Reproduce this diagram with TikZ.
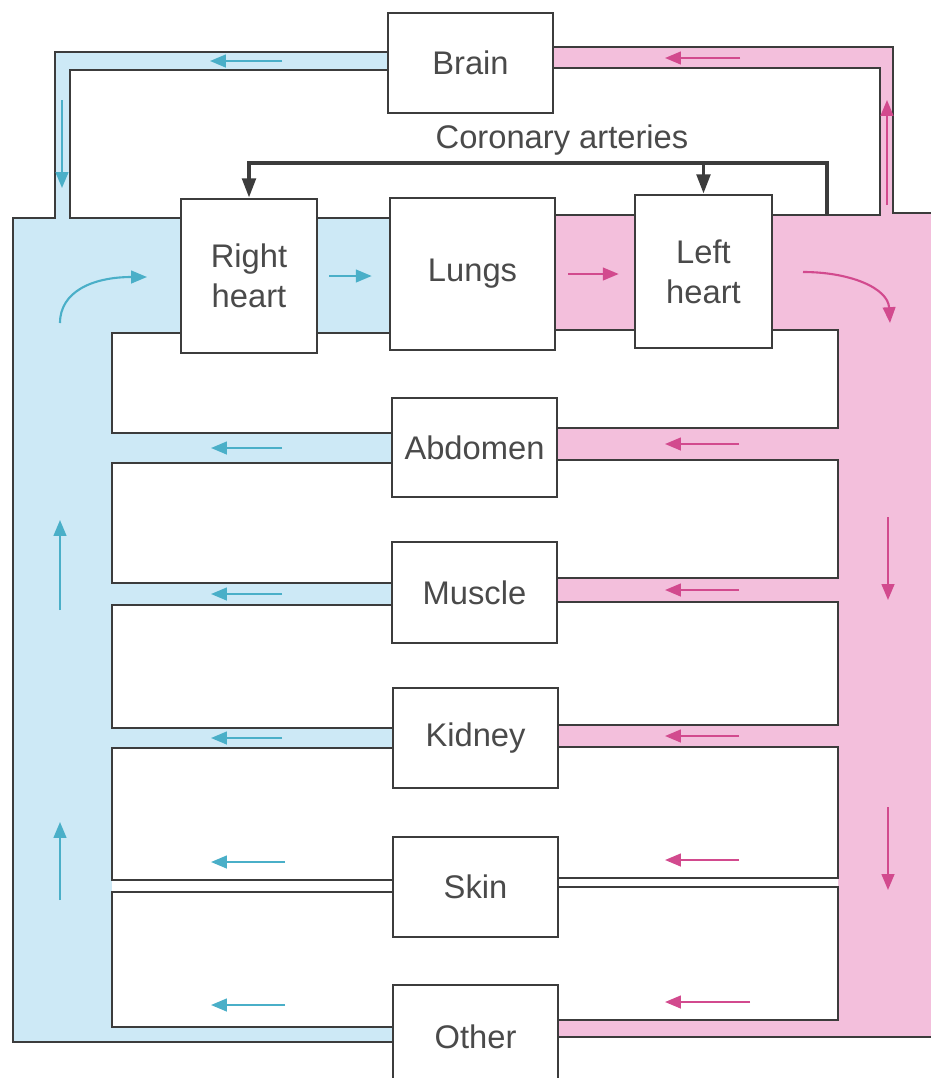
\documentclass[tikz,border=0pt]{standalone}
\usepackage{fontspec}
\setmainfont{Liberation Sans}
\usepackage{xcolor}
\definecolor{venous}{HTML}{CDE9F6}
\definecolor{arterial}{HTML}{F3BFDC}
\definecolor{venousflow}{HTML}{4AAFC8}
\definecolor{arterialflow}{HTML}{D24A8E}
\definecolor{wallgray}{HTML}{3C3C3C}
\definecolor{labelgray}{HTML}{4A4A4A}
\usepackage{tikz}
\usetikzlibrary{arrows.meta, calc}

\begin{document}
\begin{tikzpicture}[x=0.01cm, y=-0.01cm,
    >={Triangle[length=4.5pt,width=3.6pt]},
    wall/.style={draw=wallgray, line width=0.7pt},
    organ/.style={wall, fill=white, minimum width=1.65cm, minimum height=1cm,
                  inner sep=0pt, align=center, text=labelgray,
                  font=\fontsize{9.3}{11.4}\selectfont},
    venflow/.style={->, venousflow, line width=0.6pt},
    artflow/.style={->, arterialflow, line width=0.6pt},
    coronary/.style={draw=wallgray, line width=1.1pt,
                     -{Triangle[length=5.5pt,width=3.8pt]}}]

  \clip (0,0) rectangle (931,1078);
  \fill[white] (0,0) rectangle (931,1078);

  % blood on both sides
  \fill[venous] (13,218) -- (55,218) -- (55,52) -- (388,52) -- (388,70)
    -- (70,70) -- (70,218) -- (475,218) -- (475,1042) -- (13,1042) -- cycle;
  \fill[arterial] (553,47) -- (893,47) -- (893,213) -- (931,213)
    -- (931,1037) -- (475,1037) -- (475,215) -- (880,215) -- (880,68)
    -- (553,68) -- cycle;
  % skin vessels are left white
  \fill[white] (112,880) -- (475,880) -- (475,878) -- (838,878)
    -- (838,887) -- (475,887) -- (475,892) -- (112,892) -- cycle;

  % white spaces between the vessels
  \draw[wall, fill=white] (112,333) -- (475,333) -- (475,330) -- (838,330)
    -- (838,428) -- (475,428) -- (475,433) -- (112,433) -- cycle;
  \draw[wall, fill=white] (112,463) -- (475,463) -- (475,460) -- (838,460)
    -- (838,578) -- (475,578) -- (475,583) -- (112,583) -- cycle;
  \draw[wall, fill=white] (112,605) -- (475,605) -- (475,602) -- (838,602)
    -- (838,725) -- (475,725) -- (475,728) -- (112,728) -- cycle;
  \draw[wall, fill=white] (112,748) -- (475,748) -- (475,747) -- (838,747)
    -- (838,878) -- (475,878) -- (475,880) -- (112,880) -- cycle;
  \draw[wall, fill=white] (112,892) -- (475,892) -- (475,887) -- (838,887)
    -- (838,1020) -- (475,1020) -- (475,1027) -- (112,1027) -- cycle;

  % outer walls
  \draw[wall] (388,52) -- (55,52) -- (55,218) -- (13,218) -- (13,1042) -- (475,1042);
  \draw[wall] (388,70) -- (70,70) -- (70,218) -- (475,218);
  \draw[wall] (553,47) -- (893,47) -- (893,213) -- (931,213);
  \draw[wall] (553,68) -- (880,68) -- (880,215) -- (475,215);
  \draw[wall] (931,1037) -- (475,1037);

  % boxes
  \node[organ] (brain) at (470.5,63) {Brain};
  \node[organ, minimum width=1.36cm, minimum height=1.54cm] (rheart) at (249,276) {Right\\heart};
  \node[organ, minimum height=1.52cm] (lungs) at (472.5,274) {Lungs};
  \node[organ, minimum width=1.37cm, minimum height=1.53cm] (lheart) at (703.5,271.5) {Left\\heart};
  \node[organ, minimum height=0.99cm] (abdomen) at (474.5,447.5) {Abdomen};
  \node[organ, minimum height=1.01cm] (muscle) at (474.5,592.5) {Muscle};
  \node[organ] (kidney) at (475.5,738) {Kidney};
  \node[organ] (skin) at (475.5,887) {Skin};
  \node[organ, minimum height=1.04cm, text depth=0pt] (other) at (475.5,1037) {Other};

  % coronary arteries
  \draw[coronary] (827,214) -- (827,163) -| (rheart.north);
  \draw[coronary] (lheart.north |- 0,163) -- (lheart.north);
  \node[font=\fontsize{9.3}{11}\selectfont, text=labelgray] (corlabel) at (562,140) {Coronary arteries};

  % direction of flow
  \draw[venflow] (282,61) -- (210,61);
  \draw[artflow] (740,58) -- (665,58);
  \draw[venflow] (62,100) -- (62,188);
  \draw[artflow] (887,205) -- (887,100);
  \draw[venflow] (60,323) .. controls (60,292) and (92,277) .. (147,277);
  \draw[venflow] ($(rheart.east)+(11,0)$) -- ($(lungs.west |- rheart.east)+(-17,0)$);
  \draw[artflow] ($(lungs.east)+(12,0)$) -- ($(lheart.west |- lungs.east)+(-15,0)$);
  \draw[artflow] (803,272) .. controls (850,272) and (888,288) .. (890,323);

  \draw[venflow] (282,448) -- (211,448);
  \draw[artflow] (739,444) -- (665,444);
  \draw[venflow] (282,594) -- (211,594);
  \draw[artflow] (739,590) -- (665,590);
  \draw[venflow] (282,738) -- (211,738);
  \draw[artflow] (739,736) -- (665,736);
  \draw[venflow] (285,862) -- (211,862);
  \draw[artflow] (739,860) -- (665,860);
  \draw[venflow] (285,1005) -- (211,1005);
  \draw[artflow] (750,1002) -- (665,1002);

  \draw[venflow] (60,610) -- (60,520);
  \draw[venflow] (60,900) -- (60,822);
  \draw[artflow] (888,517) -- (888,600);
  \draw[artflow] (888,807) -- (888,890);

\end{tikzpicture}
\end{document}
